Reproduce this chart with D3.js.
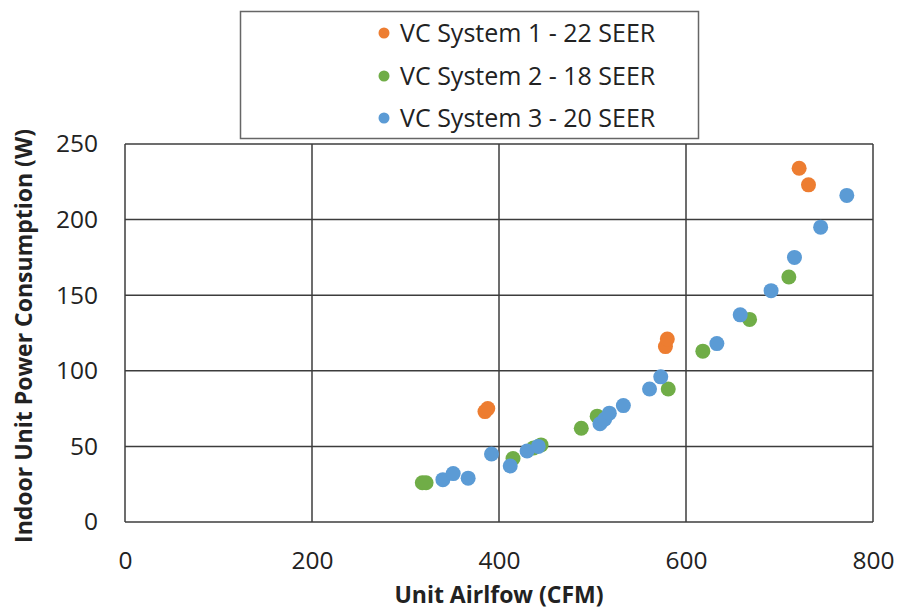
<!DOCTYPE html>
<html>
<head>
<meta charset="utf-8">
<script src="https://cdn.jsdelivr.net/npm/d3@7"></script>
<style>
  html, body { margin: 0; padding: 0; background: #fff; }
  svg { display: block; font-family: "Open Sans", "Lato", sans-serif; }
</style>
</head>
<body>
<svg id="chart" width="900" height="610"></svg>
<script>
// Airflow (CFM) vs indoor unit power (W) for each system
const system1 = [[385, 73], [388, 75], [578, 116], [580, 121], [721, 234], [731, 223]];
const system2 = [[318, 26], [322, 26], [415, 42], [437, 49], [445, 51], [488, 62],
                 [505, 70], [581, 88], [618, 113], [668, 134], [710, 162]];
const system3 = [[340, 28], [351, 32], [367, 29], [392, 45], [412, 37], [430, 47],
                 [442, 50], [508, 65], [513, 68], [518, 72], [533, 77], [561, 88],
                 [573, 96], [633, 118], [658, 137], [691, 153], [716, 175], [744, 195], [772, 216]];

const seriesNames = ["VC System 1 - 22 SEER", "VC System 2 - 18 SEER", "VC System 3 - 20 SEER"];
const seriesColors = ["#ED7D31", "#70AD47", "#5B9BD5"];
const xTicks = [0, 200, 400, 600, 800];
const yTicks = [0, 50, 100, 150, 200, 250];

const svg = d3.select("#chart");
const plot = { left: 125, right: 873, top: 144, bottom: 522 };

const x = d3.scaleLinear().domain([0, 800]).range([plot.left, plot.right]);
const y = d3.scaleLinear().domain([0, 250]).range([plot.bottom, plot.top]);

const gridColor = "#3c3c3c";

// Gridlines
svg.append("g").selectAll("line").data(xTicks).join("line")
  .attr("x1", d => x(d)).attr("x2", d => x(d))
  .attr("y1", plot.top).attr("y2", plot.bottom)
  .attr("stroke", gridColor).attr("stroke-width", 1.5);
svg.append("g").selectAll("line").data(yTicks).join("line")
  .attr("x1", plot.left).attr("x2", plot.right)
  .attr("y1", d => y(d)).attr("y2", d => y(d))
  .attr("stroke", gridColor).attr("stroke-width", 1.5);

// Axes (labels only; lines come from the grid)
const tickFont = 24.5;
const xAxis = svg.append("g")
  .attr("transform", `translate(0,${plot.bottom})`)
  .call(d3.axisBottom(x).tickValues(xTicks).tickSize(0).tickPadding(30));
const yAxis = svg.append("g")
  .attr("transform", `translate(${plot.left},0)`)
  .call(d3.axisLeft(y).tickValues(yTicks).tickSize(0).tickPadding(27));
[xAxis, yAxis].forEach(a => {
  a.select(".domain").remove();
  a.selectAll("text").attr("font-size", tickFont).attr("fill", "#222")
    .attr("font-family", "'Open Sans', sans-serif");
});

// Points
const all = [system1, system2, system3];
all.forEach((data, i) => {
  svg.append("g").selectAll("circle").data(data).join("circle")
    .attr("cx", d => x(d[0])).attr("cy", d => y(d[1]))
    .attr("r", 7.5)
    .attr("fill", seriesColors[i]);
});

// Axis titles
svg.append("text")
  .attr("x", 499).attr("y", 603)
  .attr("text-anchor", "middle")
  .attr("font-size", 23).attr("font-weight", "bold").attr("fill", "#222")
  .text("Unit Airlfow (CFM)");
svg.append("text")
  .attr("transform", `translate(32,336) rotate(-90)`)
  .attr("text-anchor", "middle")
  .attr("font-size", 23).attr("font-weight", "bold").attr("fill", "#222")
  .text("Indoor Unit Power Consumption (W)");

// Legend
const legend = svg.append("g");
legend.append("rect")
  .attr("x", 240.5).attr("y", 11.5).attr("width", 458).attr("height", 127)
  .attr("fill", "#fff").attr("stroke", "#666").attr("stroke-width", 1.5);
const rows = [33, 76, 118];
seriesNames.forEach((name, i) => {
  legend.append("circle")
    .attr("cx", 384).attr("cy", rows[i]).attr("r", 5.5)
    .attr("fill", seriesColors[i]);
  legend.append("text")
    .attr("x", 400).attr("y", rows[i]).attr("dy", "0.35em")
    .attr("font-size", 25).attr("fill", "#222")
    .text(name);
});
</script>
</body>
</html>
